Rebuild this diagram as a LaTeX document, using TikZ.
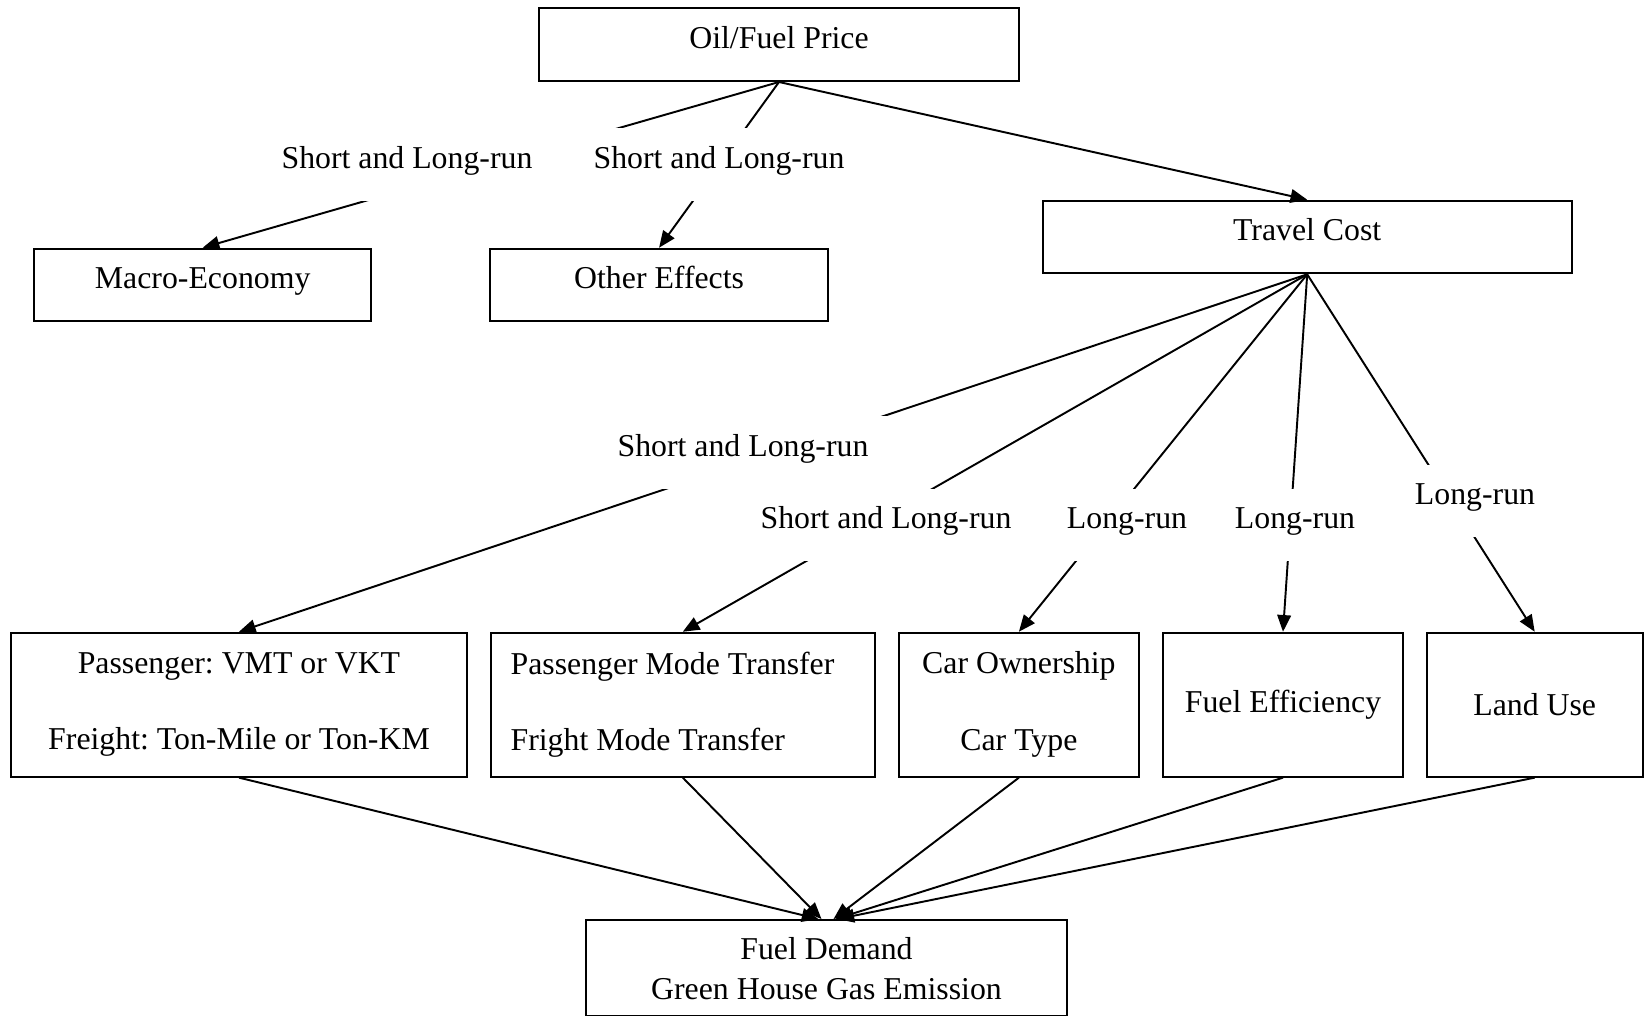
\documentclass[tikz,border=0pt]{standalone}
\usepackage{fontspec}
\setmainfont{Liberation Serif}
\usetikzlibrary{arrows.meta}
\frenchspacing
\begin{document}
\begin{tikzpicture}[x=0.02cm,y=-0.02cm,
  every node/.style={font=\fontsize{18.1pt}{21.7pt}\selectfont\frenchspacing},
  box/.style={draw=black,line width=1.1pt,fill=white,inner sep=0pt,minimum height=1.454cm},
  onebox/.style={box,text height=0.7em,text depth=0.28em},
  tallbox/.style={box,minimum height=2.88cm,align=center},
  lab/.style={fill=white,inner sep=0pt,minimum height=1.454cm,text height=0.7em,text depth=0.28em},
  conn/.style={line width=1.1pt,-{Triangle[length=9.5pt,width=7.8pt]}},
]
\useasboundingbox (0,0) rectangle (1647,1016);
% boxes
\node[onebox,minimum width=9.6cm] (oil) at (779,44.7) {Oil/Fuel Price};
\node[onebox,minimum width=6.732cm] (macro) at (202.7,285) {Macro-Economy};
\node[onebox,minimum width=6.748cm] (other) at (659.1,285) {Other Effects};
\node[onebox,minimum width=10.588cm] (travel) at (1307.2,237) {Travel Cost};
\node[tallbox,minimum width=9.14cm] (pass) at (239,704.7) {Passenger: VMT or VKT\\[21.9pt]Freight: Ton-Mile or Ton-KM};
\node[box,minimum width=7.69cm,minimum height=2.88cm,text width=6.89cm,inner xsep=0.4cm,align=flush left] (mode) at (682.8,704.7) {Passenger Mode Transfer\\[21.9pt]Fright Mode Transfer};
\node[tallbox,minimum width=4.794cm] (car) at (1018.9,704.7) {Car Ownership\\[21.9pt]Car Type};
\node[tallbox,minimum width=4.812cm] (fuel) at (1283,704.7) {Fuel Efficiency};
\node[tallbox,minimum width=4.328cm] (land) at (1534.7,704.7) {Land Use};
\node[box,minimum width=9.62cm,minimum height=1.92cm,align=center,text depth=0pt] (fd) at (826.5,968) {Fuel Demand\\[1.1pt]Green House Gas Emission};
% connectors
\draw[conn] (oil.south) -- (macro.north);
\draw[conn] (oil.south) -- (other.north);
\draw[conn] (oil.south) -- (travel.north);
\draw[conn] (travel.south) -- (pass.north);
\draw[conn] (travel.south) -- (mode.north);
\draw[conn] (travel.south) -- (car.north);
\draw[conn] (travel.south) -- (fuel.north);
\draw[conn] (travel.south) -- (land.north);
\draw[conn] (pass.south) -- ([xshift=-0.16cm]fd.north);
\draw[conn] (mode.south) -- ([xshift=-0.10cm]fd.north);
\draw[conn] (car.south) -- ([xshift=0.14cm]fd.north);
\draw[conn] (fuel.south) -- ([xshift=0.18cm]fd.north);
\draw[conn] (land.south) -- ([xshift=0.22cm]fd.north);
% labels on connectors
\node[lab,minimum width=8.4cm] (la) at (407,164.7) {Short and Long-run};
\node[lab,minimum width=6cm] (lb) at (719,164.7) {Short and Long-run};
\node[lab,minimum width=6cm] (lc) at (743,452.5) {Short and Long-run};
\node[lab,minimum width=5.8cm] (ld) at (886,525) {Short and Long-run};
\node[lab,minimum width=3cm] (le) at (1127,525) {Long-run};
\node[lab,minimum width=3cm] (lf) at (1295,525) {Long-run};
\node[lab,minimum width=3cm] (lg) at (1475,501) {Long-run};
\end{tikzpicture}
\end{document}
